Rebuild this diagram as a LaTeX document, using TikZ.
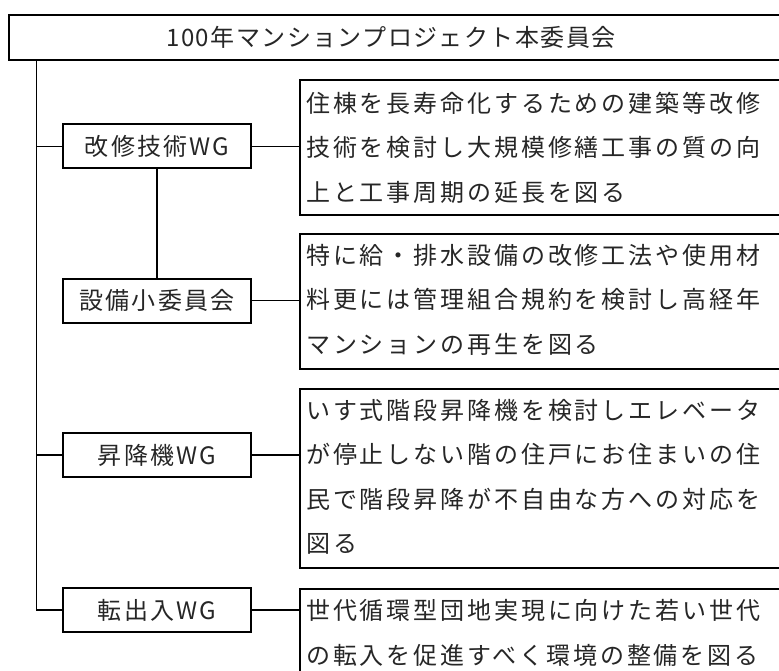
\documentclass[tikz,border=0pt]{standalone}
\usepackage{fontspec}
\newfontfamily\jpdesc[LetterSpace=12]{Noto Sans CJK JP}
\newfontfamily\jplabel[LetterSpace=9]{Noto Sans CJK JP}
\newfontfamily\jptitle[LetterSpace=6]{Noto Sans CJK JP}
\tikzset{
  boxline/.style={draw=black, line width=2pt},
  conn/.style={draw=black, line width=1.3pt},
  wgbox/.style={boxline, rectangle, inner sep=0pt, minimum width=187.5pt, minimum height=44pt,
     font=\jplabel\fontsize{24pt}{24pt}\selectfont, text=black!85},
  descbox/.style={boxline, rectangle, inner sep=0pt, anchor=north west},
  dline/.style={anchor=west, inner sep=0pt, font=\jpdesc\fontsize{24pt}{24pt}\selectfont, text=black!85},
}
\begin{document}
\begin{tikzpicture}[x=1pt,y=-1pt]
\useasboundingbox (0,0) rectangle (779,671);
\clip (0,0) rectangle (779,671);
% top box
\node[boxline, rectangle, inner sep=0pt, anchor=north west, minimum width=900pt, minimum height=45pt] (top) at (7.5,14.5) {};
\node[inner sep=0pt, font=\jptitle\fontsize{24pt}{24pt}\selectfont, text=black!85] (title) at (391,37) {100年マンションプロジェクト本委員会};
% WG boxes
\node[wgbox] (wA) at (157,146.25) {改修技術WG};
\node[wgbox] (wB) at (157,300.75) {設備小委員会};
\node[wgbox] (wC) at (157,455) {昇降機WG};
\node[wgbox] (wD) at (157,610) {転出入WG};
% description boxes
\node[descbox, minimum width=600pt, minimum height=135pt] (d1) at (299,79) {};
\node[descbox, minimum width=600pt, minimum height=135pt] (d2) at (299,233) {};
\node[descbox, minimum width=600pt, minimum height=179pt] (d3) at (299,388) {};
\node[descbox, minimum width=600pt, minimum height=135pt] (d4) at (299,588) {};
% description texts
\node[dline] (d1a) at (306,103) {住棟を長寿命化するための建築等改修};
\node[dline] (d1b) at (306,147.5) {技術を検討し大規模修繕工事の質の向};
\node[dline] (d1c) at (306,192) {上と工事周期の延長を図る};
\node[dline] (d2a) at (306,255) {特に給・排水設備の改修工法や使用材};
\node[dline] (d2b) at (306,299.5) {料更には管理組合規約を検討し高経年};
\node[dline] (d2c) at (306,344) {マンションの再生を図る};
\node[dline] (d3a) at (306,410) {いす式階段昇降機を検討しエレベータ};
\node[dline] (d3b) at (306,454.5) {が停止しない階の住戸にお住まいの住};
\node[dline] (d3c) at (306,499) {民で階段昇降が不自由な方への対応を};
\node[dline] (d3d) at (306,543.5) {図る};
\node[dline] (d4a) at (306,610.5) {世代循環型団地実現に向けた若い世代};
\node[dline] (d4b) at (306,655) {の転入を促進すべく環境の整備を図る};
% trunk
\coordinate (tr) at (top.south -| 36.5,0);
\draw[conn] (tr) |- (wD.west);
\draw[conn] (tr |- wA.west) -- (wA.west);
\draw[conn] (tr |- wC.west) -- (wC.west);
\draw[conn] (wA.south) -- (wB.north);
% WG to description
\draw[conn] (wA.east) -- (wA.east -| d1.west);
\draw[conn] (wB.east) -- (wB.east -| d2.west);
\draw[conn] (wC.east) -- (wC.east -| d3.west);
\draw[conn] (wD.east) -- (wD.east -| d4.west);
\end{tikzpicture}
\end{document}
